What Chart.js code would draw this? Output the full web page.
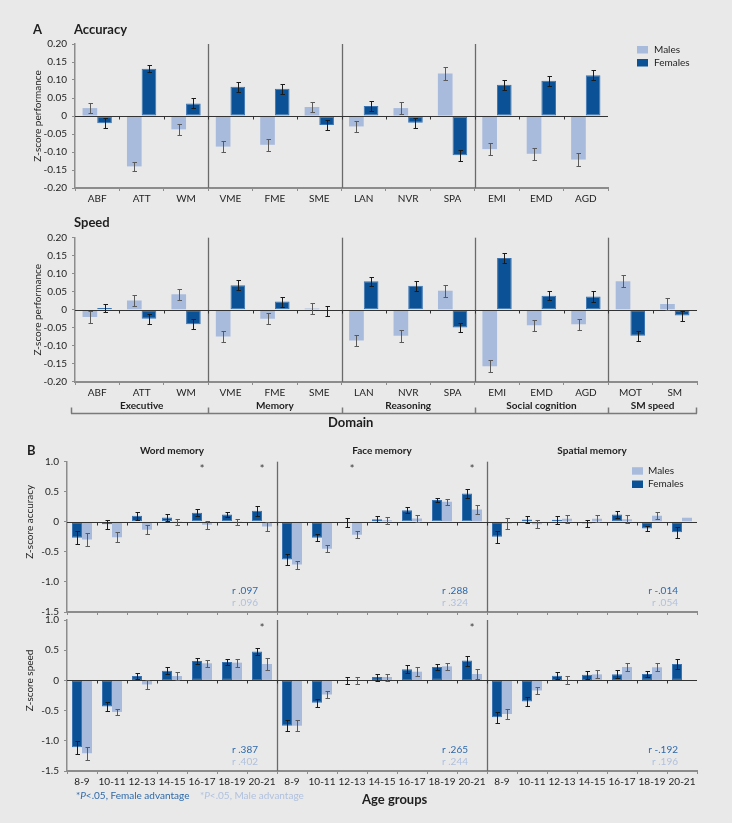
<!DOCTYPE html>
<html><head><meta charset="utf-8">
<script src="https://cdn.jsdelivr.net/npm/chart.js@4.4.0/dist/chart.umd.min.js"></script>
<style>
html,body{margin:0;padding:0;background:#ffffff;}
#page{position:relative;width:732px;height:823px;background:#e9e9e9;overflow:hidden;}
canvas{position:absolute;left:0;top:0;}
</style></head><body>
<div id="page">
<canvas id="accA" width="735" height="825"></canvas>
<canvas id="spdA" width="735" height="825"></canvas>
<canvas id="accB" width="735" height="825"></canvas>
<canvas id="spdB" width="735" height="825"></canvas>
</div>
<script>
// ---------------- DATA ----------------
// Panel A
const accDomains = ['ABF','ATT','WM','VME','FME','SME','LAN','NVR','SPA','EMI','EMD','AGD'];
const spdDomains = ['ABF','ATT','WM','VME','FME','SME','LAN','NVR','SPA','EMI','EMD','AGD','MOT','SM'];
const domainGroups = ['Executive','Memory','Reasoning','Social cognition','SM speed'];
const domainGroupSizes = [3,3,3,3,2];
const accTickValues = [-0.2,-0.15,-0.1,-0.05,0,0.05,0.1,0.15,0.2];
const accTickLabels = ['-0.20','-0.15','-0.10','-0.05','0','0.05','0.10','0.15','0.20'];

const accMales      = [0.022,-0.140,-0.037,-0.085,-0.080,0.025,-0.029,0.022,0.118,-0.092,-0.105,-0.121];
const accMalesErr   = [0.015,0.013,0.015,0.016,0.016,0.015,0.016,0.017,0.017,0.016,0.016,0.017];
const accFemales    = [-0.020,0.131,0.035,0.081,0.076,-0.025,0.028,-0.019,-0.109,0.087,0.098,0.113];
const accFemalesErr = [0.014,0.010,0.014,0.014,0.014,0.014,0.014,0.014,0.015,0.014,0.014,0.014];

const spdMales      = [-0.020,0.026,0.043,-0.074,-0.025,0.004,-0.085,-0.072,0.053,-0.156,-0.043,-0.040,0.079,0.016];
const spdMalesErr   = [0.016,0.014,0.015,0.016,0.015,0.015,0.016,0.017,0.017,0.016,0.015,0.016,0.017,0.016];
const spdFemales    = [0.005,-0.025,-0.040,0.068,0.023,-0.003,0.079,0.067,-0.049,0.144,0.039,0.037,-0.072,-0.016];
const spdFemalesErr = [0.012,0.013,0.014,0.014,0.014,0.014,0.013,0.014,0.013,0.013,0.013,0.014,0.014,0.014];

// Panel B
const ageGroups = ['8-9','10-11','12-13','14-15','16-17','18-19','20-21'];
const memoryTypes = ['Word memory','Face memory','Spatial memory'];
const zTickValues = [-1.5,-1,-0.5,0,0.5,1];
const zTickLabels = ['-1.5','-1.0','-0.5','0','0.5','1.0'];

const wordAccF    = [-0.267,-0.039,0.103,0.072,0.150,0.122,0.183];
const wordAccFErr = [0.11,0.075,0.065,0.065,0.055,0.04,0.08];
const wordAccM    = [-0.294,-0.256,-0.130,0.005,-0.050,0.005,-0.078];
const wordAccMErr = [0.10,0.08,0.07,0.05,0.065,0.05,0.08];
const faceAccF    = [-0.628,-0.267,-0.010,0.044,0.194,0.361,0.472];
const faceAccFErr = [0.09,0.06,0.07,0.055,0.055,0.037,0.075];
const faceAccM    = [-0.711,-0.450,-0.217,0.028,0.056,0.333,0.206];
const faceAccMErr = [0.067,0.06,0.058,0.058,0.06,0.05,0.08];
const spatAccF    = [-0.250,0.039,0.033,-0.028,0.122,-0.111,-0.172];
const spatAccFErr = [0.097,0.065,0.065,0.06,0.06,0.045,0.09];
const spatAccM    = [-0.030,-0.039,0.050,0.050,0.044,0.100,0.067];
const spatAccMErr = [0.09,0.065,0.065,0.06,0.065,0.058,0];

const wordSpdF    = [-1.106,-0.433,0.072,0.161,0.322,0.306,0.478];
const wordSpdFErr = [0.11,0.072,0.053,0.058,0.045,0.047,0.06];
const wordSpdM    = [-1.206,-0.522,-0.067,0.072,0.283,0.294,0.272];
const wordSpdMErr = [0.105,0.055,0.075,0.067,0.06,0.067,0.10];
const faceSpdF    = [-0.750,-0.372,0.000,0.056,0.183,0.222,0.328];
const faceSpdFErr = [0.09,0.07,0.055,0.058,0.067,0.047,0.083];
const faceSpdM    = [-0.750,-0.233,0.000,0.056,0.144,0.233,0.106];
const faceSpdMErr = [0.09,0.065,0.06,0.058,0.07,0.053,0.083];
const spatSpdF    = [-0.611,-0.350,0.078,0.094,0.100,0.106,0.272];
const spatSpdFErr = [0.094,0.067,0.06,0.065,0.065,0.045,0.085];
const spatSpdM    = [-0.556,-0.167,0.010,0.100,0.222,0.217,-0.010];
const spatSpdMErr = [0.09,0.06,0.067,0.067,0.067,0.067,0];

const accRFemales = ['r .097','r .288','r -.014'];
const accRMales   = ['r .096','r .324','r .054'];
const spdRFemales = ['r .387','r .265','r -.192'];
const spdRMales   = ['r .402','r .244','r .196'];
const accStars = [4,6,9,13];   // index across the 21 age-group slots
const spdStars = [6,13];

// ---------------- STYLE ----------------
const W = 735, H = 825;
const FONT = 'Lato';
const TXT = '#1e1e1e';
const MALE = '#a8bbdc', FEMALE = '#0b5196', FEMALE_EDGE = '#3a74b3';
const RDARK = '#2e69a9', RLIGHT = '#b0c1de';

function boundaryX(xs, b){ return (xs.getPixelForValue(b-1) + xs.getPixelForValue(b)) / 2; }

function yTitle(ctx, text, x, y){
  ctx.save();
  ctx.translate(x, y); ctx.rotate(-Math.PI/2);
  ctx.font = '10px ' + FONT; ctx.fillStyle = TXT;
  ctx.textAlign = 'center'; ctx.textBaseline = 'middle';
  ctx.fillText(text, 0, 0);
  ctx.restore();
}
function drawLegend(ctx, chart, sx, yM, yF, tx){
  const dsets = chart.data.datasets;
  [['Males', yM], ['Females', yF]].forEach(([lab, yy]) => {
    const ds = dsets.find(d => d.label === lab);
    ctx.fillStyle = ds.backgroundColor;
    ctx.fillRect(sx, yy - 3.5, 11, 7.5);
    ctx.fillStyle = TXT; ctx.font = '10px ' + FONT;
    ctx.textAlign = 'left'; ctx.textBaseline = 'middle';
    ctx.fillText(ds.label, tx, yy);
  });
}

const refPlugin = (cfg) => ({
  id: 'ref',
  beforeDatasetsDraw(chart){
    const ctx = chart.ctx, ca = chart.chartArea, xs = chart.scales.x;
    ctx.save();
    ctx.strokeStyle = '#6a6a6a'; ctx.lineWidth = 1.3;
    (cfg.seps || []).forEach(b => {
      const x = Math.round(boundaryX(xs, b)) + 0.5;
      ctx.beginPath(); ctx.moveTo(x, ca.top); ctx.lineTo(x, ca.bottom); ctx.stroke();
    });
    ctx.restore();
  },
  afterDatasetsDraw(chart){
    const ctx = chart.ctx, ca = chart.chartArea, xs = chart.scales.x, ys = chart.scales.y;
    const y0 = Math.round(ys.getPixelForValue(0)) + 0.5;
    ctx.save();
    // zero line
    ctx.strokeStyle = '#333'; ctx.lineWidth = 1.1;
    ctx.beginPath(); ctx.moveTo(ca.left, y0); ctx.lineTo(ca.right, y0); ctx.stroke();
    ctx.lineWidth = 1;
    for (let b = 1; b < chart.data.labels.length; b++){
      const x = Math.round(boundaryX(xs, b)) + 0.5;
      ctx.beginPath(); ctx.moveTo(x, y0); ctx.lineTo(x, y0 + 3); ctx.stroke();
    }
    // error bars
    chart.data.datasets.forEach((ds, di) => {
      const meta = chart.getDatasetMeta(di);
      ctx.strokeStyle = ds.errColor; ctx.lineWidth = 1;
      meta.data.forEach((bar, i) => {
        const e = ds.errors[i]; if (!e) return;
        const v = ds.data[i];
        const x = Math.round(bar.x) + 0.5;
        const y1 = Math.round(ys.getPixelForValue(v + e)) + 0.5;
        const y2 = Math.round(ys.getPixelForValue(v - e)) + 0.5;
        ctx.beginPath();
        ctx.moveTo(x, y1); ctx.lineTo(x, y2);
        ctx.moveTo(x - 2, y1); ctx.lineTo(x + 2.5, y1);
        ctx.moveTo(x - 2, y2); ctx.lineTo(x + 2.5, y2);
        ctx.stroke();
      });
    });
    ctx.restore();
  },
  afterDraw(chart){ if (cfg.draw) { chart.ctx.save(); cfg.draw(chart, chart.ctx); chart.ctx.restore(); } }
});

function makeChart(id, box, yW, xH, labels, datasets, yVals, yLbls, showX, catPct, cfg){
  return new Chart(document.getElementById(id), {
    type: 'bar',
    data: { labels: labels, datasets: datasets },
    options: {
      responsive: false, animation: false, devicePixelRatio: 1,
      layout: { padding: { left: box.l - yW, right: W - box.r, top: box.t, bottom: H - box.b - xH } },
      plugins: { legend: { display: false }, tooltip: { enabled: false }, title: { display: false } },
      datasets: { bar: { categoryPercentage: catPct, barPercentage: 1 } },
      scales: {
        x: {
          offset: true,
          grid: { display: true, offset: true, drawOnChartArea: false, drawTicks: true, tickLength: 3, color: '#8c8c8c' },
          border: { display: true, color: '#8c8c8c', width: 2 },
          ticks: { display: showX, color: TXT, font: { family: FONT, size: 10 }, padding: 2, maxRotation: 0, minRotation: 0, autoSkip: false },
          afterFit(s){ s.height = xH; }
        },
        y: {
          min: yVals[0], max: yVals[yVals.length - 1],
          afterBuildTicks(s){ s.ticks = yVals.map(v => ({ value: v })); },
          ticks: { callback: (v) => yLbls[yVals.indexOf(v)], color: TXT, font: { family: FONT, size: 10 }, padding: 5 },
          grid: { display: true, drawOnChartArea: false, drawTicks: true, tickLength: 3, color: '#8c8c8c' },
          border: { display: true, color: '#8c8c8c', width: 1.5 },
          afterFit(s){ s.width = yW; }
        }
      }
    },
    plugins: [refPlugin(cfg)]
  });
}

function maleDS(data, err){ return { label: 'Males', data: data, errors: err, backgroundColor: MALE, borderWidth: 0, errColor: '#5a5a5a' }; }
function femaleDS(data, err){ return { label: 'Females', data: data, errors: err, backgroundColor: FEMALE, borderColor: FEMALE_EDGE, borderWidth: 1, borderSkipped: false, errColor: '#1a1a1a' }; }

// ---------------- PANEL A ----------------
makeChart('accA', { l: 75, r: 608, t: 44, b: 188 }, 44, 20, accDomains,
  [maleDS(accMales, accMalesErr), femaleDS(accFemales, accFemalesErr)],
  accTickValues, accTickLabels, true, 0.66,
  { seps: [3, 6, 9],
    draw(chart, ctx){
      ctx.fillStyle = TXT; ctx.font = 'bold 13px ' + FONT;
      ctx.textAlign = 'left'; ctx.textBaseline = 'middle';
      ctx.fillText('A', 33, 30);
      ctx.fillText('Accuracy', 74, 30);
      yTitle(ctx, 'Z-score performance', 37.5, chart.scales.y.getPixelForValue(0));
      drawLegend(ctx, chart, 637, 49.5, 62.5, 654);
    } });

makeChart('spdA', { l: 75, r: 697, t: 237.7, b: 382 }, 44, 20, spdDomains,
  [maleDS(spdMales, spdMalesErr), femaleDS(spdFemales, spdFemalesErr)],
  accTickValues, accTickLabels, true, 0.66,
  { seps: [3, 6, 9, 12],
    draw(chart, ctx){
      const ca = chart.chartArea, xs = chart.scales.x;
      ctx.fillStyle = TXT; ctx.font = 'bold 13px ' + FONT;
      ctx.textAlign = 'left'; ctx.textBaseline = 'middle';
      ctx.fillText('Speed', 74, 223);
      yTitle(ctx, 'Z-score performance', 37.5, chart.scales.y.getPixelForValue(0));
      // domain brackets
      const yb = Math.round(ca.bottom + 31) + 0.5;
      ctx.strokeStyle = '#7a7a7a'; ctx.lineWidth = 1.5;
      ctx.beginPath(); ctx.moveTo(ca.left - 4, yb); ctx.lineTo(ca.right, yb); ctx.stroke();
      let start = 0;
      const n = chart.data.labels.length;
      ctx.font = 'bold 10px ' + FONT; ctx.textAlign = 'center';
      domainGroups.forEach((g, gi) => {
        const end = start + domainGroupSizes[gi];
        const xl = start === 0 ? ca.left - 4 : boundaryX(xs, start);
        const xr = end === n ? ca.right : boundaryX(xs, end);
        ctx.beginPath(); ctx.moveTo(Math.round(xl) + 0.5, yb); ctx.lineTo(Math.round(xl) + 0.5, yb - 6); ctx.stroke();
        if (end === n) { ctx.beginPath(); ctx.moveTo(Math.round(xr) - 0.5, yb); ctx.lineTo(Math.round(xr) - 0.5, yb - 6); ctx.stroke(); }
        const xc = ((start === 0 ? ca.left : xl) + xr) / 2;
        ctx.fillStyle = TXT;
        ctx.fillText(g, xc, ca.bottom + 24);
        start = end;
      });
      ctx.font = 'bold 13px ' + FONT; ctx.textAlign = 'left';
      ctx.fillText('Domain', 328, 423);
    } });

// ---------------- PANEL B ----------------
const ageSlots = [].concat(ageGroups, ageGroups, ageGroups);

function subEdges(chart, i){
  const ca = chart.chartArea, xs = chart.scales.x;
  const l = i === 0 ? ca.left : boundaryX(xs, 7 * i);
  const r = i === 2 ? ca.right : boundaryX(xs, 7 * i + 7);
  return [l, r];
}
function drawRStars(chart, ctx, rF, rM, stars){
  const ca = chart.chartArea, xs = chart.scales.x, ys = chart.scales.y;
  ctx.font = '10px ' + FONT; ctx.textAlign = 'right'; ctx.textBaseline = 'middle';
  for (let i = 0; i < 3; i++){
    const [l, r] = subEdges(chart, i);
    ctx.fillStyle = RDARK; ctx.fillText(rF[i], r - 19, ca.bottom - 21);
    ctx.fillStyle = RLIGHT; ctx.fillText(rM[i], r - 19, ca.bottom - 9.5);
  }
  ctx.fillStyle = '#333'; ctx.textAlign = 'center'; ctx.font = '11px ' + FONT;
  stars.forEach(s => ctx.fillText('*', xs.getPixelForValue(s), ys.getPixelForValue(0.9) + 2));
}

makeChart('accB', { l: 67, r: 697, t: 461.7, b: 612 }, 40, 6, ageSlots,
  [femaleDS([].concat(wordAccF, faceAccF, spatAccF), [].concat(wordAccFErr, faceAccFErr, spatAccFErr)),
   maleDS([].concat(wordAccM, faceAccM, spatAccM), [].concat(wordAccMErr, faceAccMErr, spatAccMErr))],
  zTickValues, zTickLabels, false, 0.667,
  { seps: [7, 14],
    draw(chart, ctx){
      ctx.fillStyle = TXT; ctx.font = 'bold 13px ' + FONT;
      ctx.textAlign = 'left'; ctx.textBaseline = 'middle';
      ctx.fillText('B', 27, 451);
      ctx.font = 'bold 10px ' + FONT; ctx.textAlign = 'center';
      memoryTypes.forEach((m, i) => { const [l, r] = subEdges(chart, i); ctx.fillText(m, (l + r) / 2, 451); });
      yTitle(ctx, 'Z-score accuracy', 30, chart.scales.y.getPixelForValue(0));
      drawLegend(ctx, chart, 632, 470.7, 484, 648);
      drawRStars(chart, ctx, accRFemales, accRMales, accStars);
    } });

makeChart('spdB', { l: 67, r: 697, t: 620, b: 771 }, 40, 18, ageSlots,
  [femaleDS([].concat(wordSpdF, faceSpdF, spatSpdF), [].concat(wordSpdFErr, faceSpdFErr, spatSpdFErr)),
   maleDS([].concat(wordSpdM, faceSpdM, spatSpdM), [].concat(wordSpdMErr, faceSpdMErr, spatSpdMErr))],
  zTickValues, zTickLabels, true, 0.667,
  { seps: [7, 14],
    draw(chart, ctx){
      yTitle(ctx, 'Z-score speed', 30, chart.scales.y.getPixelForValue(0));
      drawRStars(chart, ctx, spdRFemales, spdRMales, spdStars);
      // footnote
      ctx.textBaseline = 'middle'; ctx.textAlign = 'left';
      function note(x, col, txt){
        ctx.fillStyle = col;
        ctx.font = '10px ' + FONT; ctx.fillText('*', x, 796); x += ctx.measureText('*').width;
        ctx.font = 'italic 10px ' + FONT; ctx.fillText('P', x, 796); x += ctx.measureText('P').width;
        ctx.font = '10px ' + FONT; ctx.fillText(txt, x, 796);
      }
      note(76, RDARK, '<.05, Female advantage');
      note(200, RLIGHT, '<.05, Male advantage');
      ctx.fillStyle = TXT; ctx.font = 'bold 13px ' + FONT;
      ctx.fillText('Age groups', 362, 800);
    } });
</script>
</body></html>
